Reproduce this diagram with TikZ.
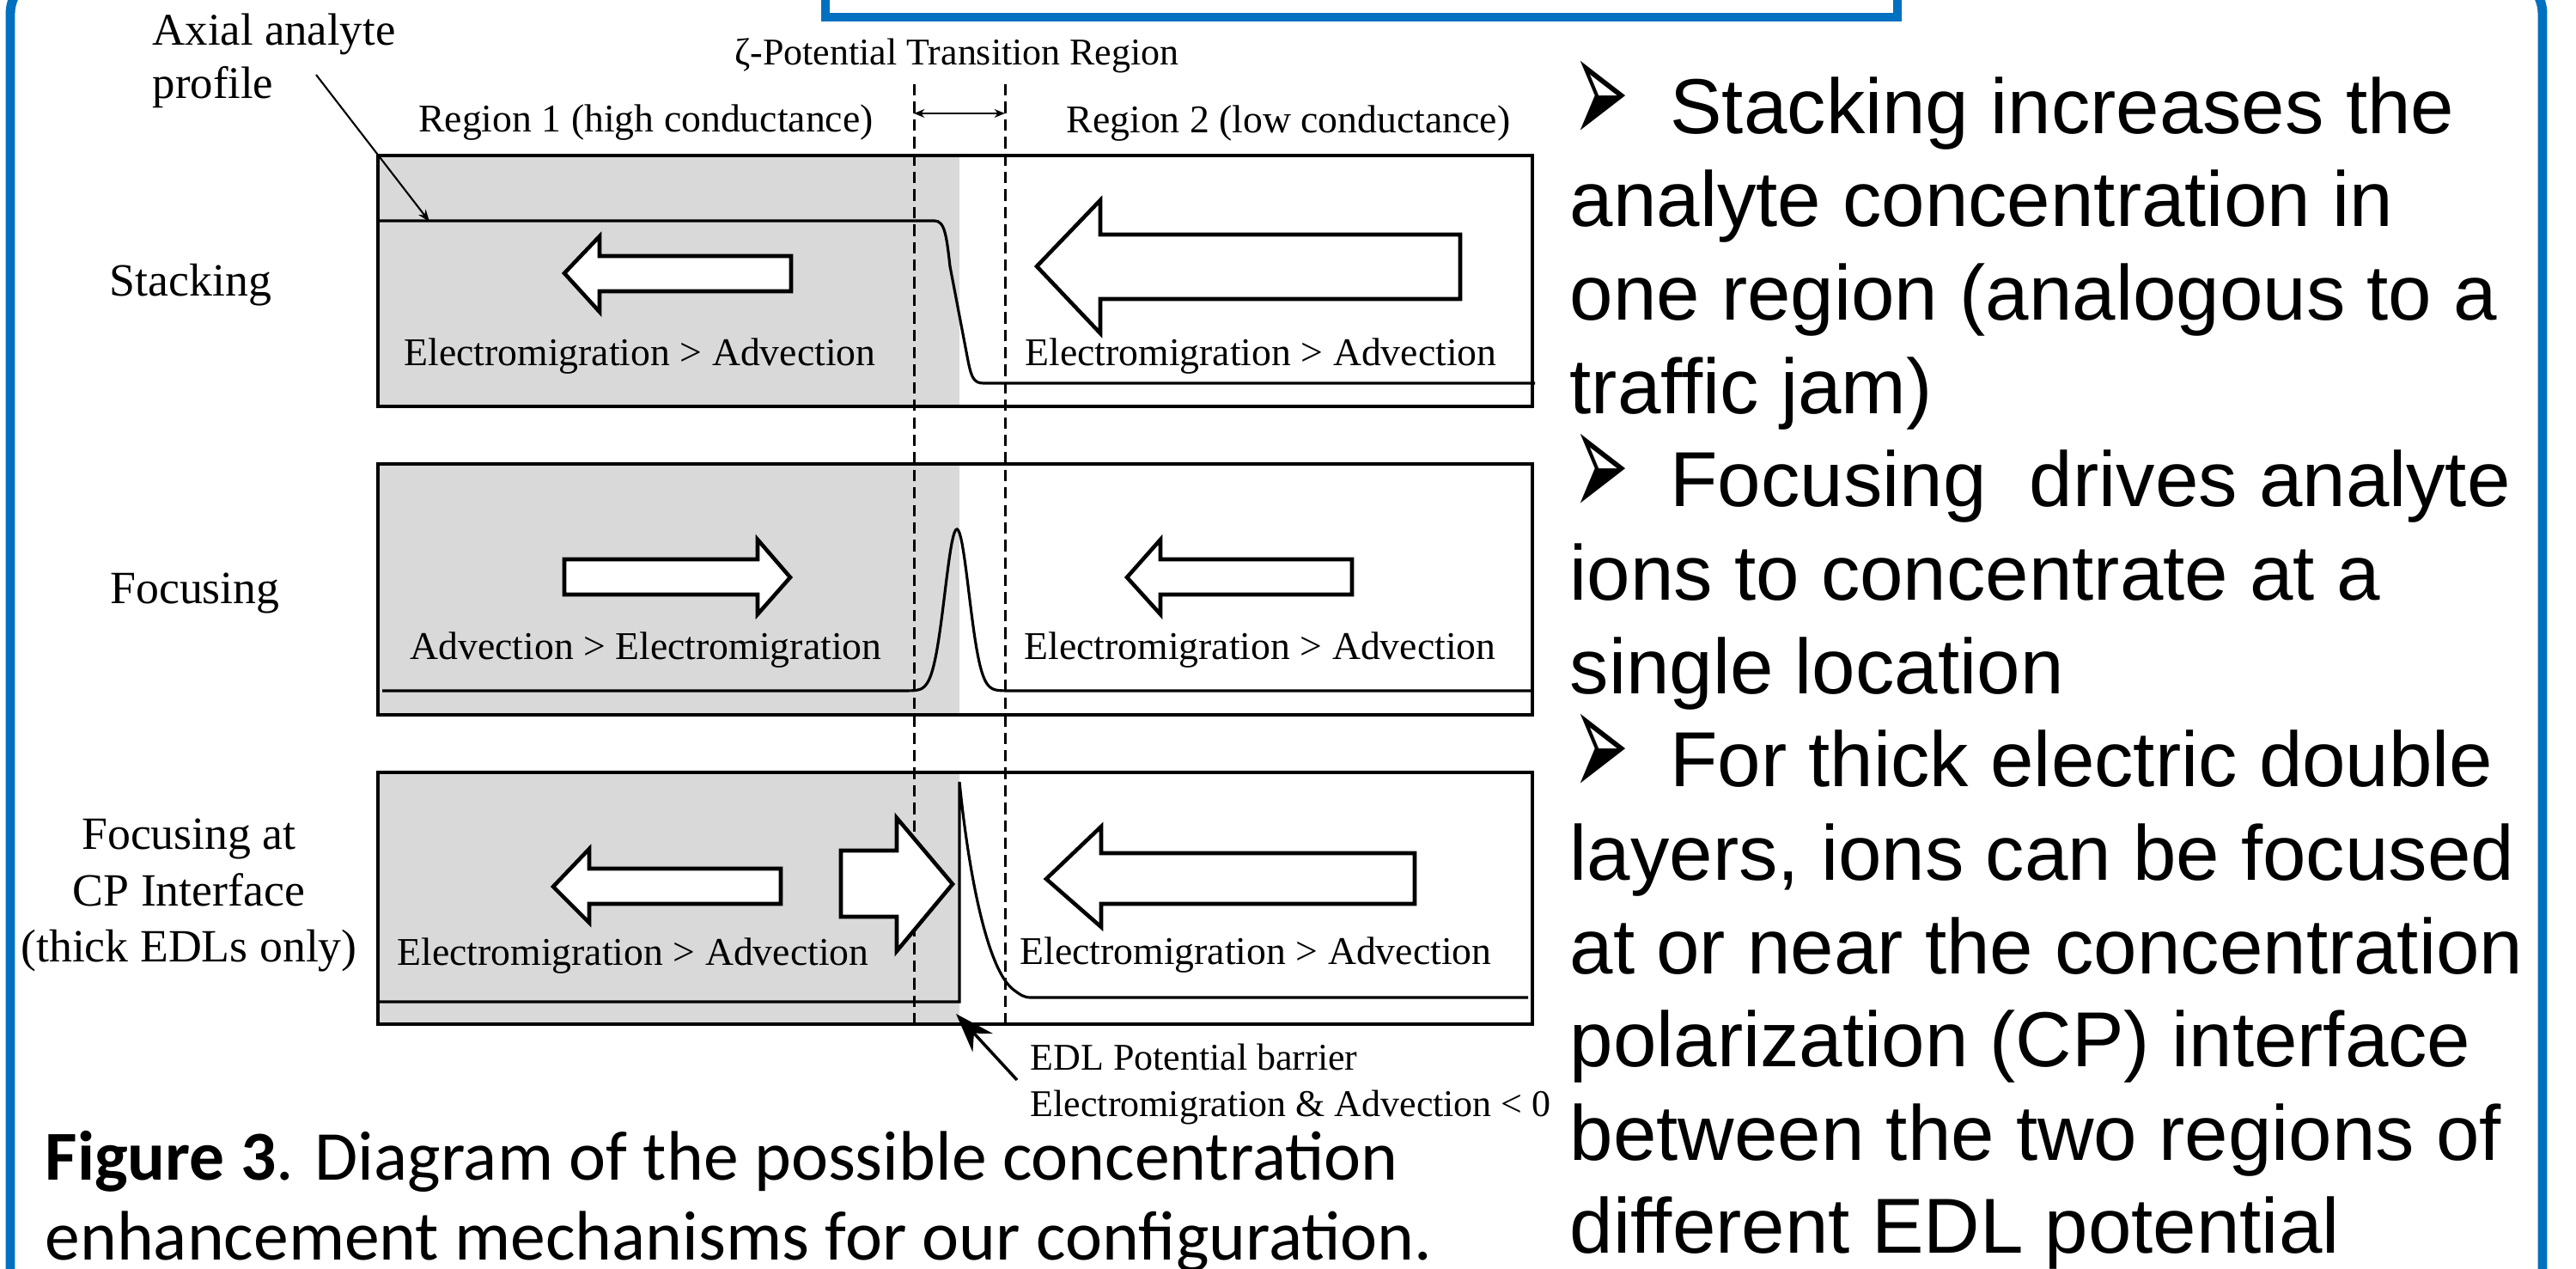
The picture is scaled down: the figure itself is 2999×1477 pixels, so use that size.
\documentclass[tikz,border=0pt]{standalone}
\usepackage{fontspec}
\setmainfont{Liberation Serif}
\newfontfamily\arialfont{Liberation Sans}
\newfontfamily\calibrifont{Carlito}
\newfontfamily\dingfont{DejaVu Sans}
\usetikzlibrary{arrows.meta}
\definecolor{frameblue}{HTML}{0070C0}
\definecolor{highgray}{HTML}{D9D9D9}
\newcommand{\bulletarrow}{\makebox[33.2pt][l]{\hspace{1pt}\raisebox{-4pt}{\scalebox{1.05}[2.5]{\dingfont\fontsize{21}{21}\selectfont ➢}}}}

\begin{document}
\begin{tikzpicture}[x=0.01cm,y=-0.01cm,
    channel/.style={line width=1.25pt},
    profile/.style={line width=0.9pt},
    flowarrow/.style={draw,fill=white,line width=1.3pt,line join=miter},
    boundary/.style={line width=0.85pt,dash pattern=on 3.8pt off 2pt},
    boxtext/.style={inner sep=0pt,anchor=base,font=\fontsize{13}{15}\selectfont},
    rowlabel/.style={inner sep=0pt,anchor=base,align=center,font=\fontsize{15.3}{18.7}\selectfont},
    note/.style={inner sep=0pt,font=\fontsize{12.5}{15.6}\selectfont}]
  \useasboundingbox (0,0) rectangle (2999,1477);

  % poster frame and title box
  \draw[frameblue,line width=3.1pt,rounded corners=0.45cm] (12,-29) rectangle (2960,1530);
  \draw[frameblue,line width=3.1pt] (961,-60) -- (961,20) -- (2209,20) -- (2209,-60);

  % high conductance region
  \fill[highgray] (440,181) rectangle (1117,473);
  \fill[highgray] (440,540) rectangle (1117,832);
  \fill[highgray] (440,899) rectangle (1117,1192);

  % transition region
  \draw[boundary] (1064,98) -- (1064,1195);
  \draw[boundary] (1170,98) -- (1170,1195);
  \coordinate (zl) at (1064,132);
  \coordinate (zr) at (1170,132);
  \draw[{Stealth[length=3.5pt,width=2.8pt]}-{Stealth[length=3.5pt,width=2.8pt]},line width=0.7pt] (zl) -- (zr);

  % channels
  \draw[channel] (440,181) rectangle (1784,473);
  \draw[channel] (440,540) rectangle (1784,832);
  \draw[channel] (440,899) rectangle (1784,1192);

  % analyte profiles
  \draw[profile] (442,257) -- (1088,257) .. controls (1100,257) and (1102,275) .. (1106,310)
    -- (1127,420) .. controls (1131,440) and (1134,446) .. (1145,446) -- (1787,446);
  \draw[profile] (445,804) -- (1040,804)
    -- plot[domain=1040:1190,samples=100] (\x,{804-188*exp(-((\x-1114)/14)^2/2)}) -- (1784,804);
  \draw[profile] (442,1166) -- (1117,1166) -- (1117,910) .. controls (1128,1020) and (1150,1130) .. (1180,1152)
    .. controls (1188,1158) and (1192,1161) .. (1200,1161) -- (1779,1161);

  % stacking
  \draw[flowarrow] (657,318) -- (698,275) -- (698,298) -- (921,298) -- (921,339) -- (698,339) -- (698,363) -- cycle;
  \draw[flowarrow] (1207,310) -- (1281,233) -- (1281,273) -- (1700,273) -- (1700,348) -- (1281,348) -- (1281,388) -- cycle;
  % focusing
  \draw[flowarrow] (920,672) -- (882,628) -- (882,651) -- (657,651) -- (657,692) -- (882,692) -- (882,715) -- cycle;
  \draw[flowarrow] (1312,672) -- (1351,628) -- (1351,651) -- (1574,651) -- (1574,692) -- (1351,692) -- (1351,715) -- cycle;
  % focusing at the CP interface
  \draw[flowarrow] (644,1032) -- (686,988) -- (686,1011) -- (909,1011) -- (909,1052) -- (686,1052) -- (686,1074) -- cycle;
  \draw[flowarrow] (1109,1029) -- (1044,952) -- (1044,990) -- (979,990) -- (979,1067) -- (1044,1067) -- (1044,1107) -- cycle;
  \draw[flowarrow] (1218,1023) -- (1282,962) -- (1282,993) -- (1647,993) -- (1647,1052) -- (1282,1052) -- (1282,1079) -- cycle;

  % labels
  \node[boxtext] (reg1) at (752,154) {Region 1 (high conductance)};
  \node[boxtext] (reg2) at (1500,155) {Region 2 (low conductance)};
  \node[note,anchor=base] (zeta) at (1114,76) {ζ-Potential Transition Region};
  \node[boxtext] (stack1) at (745,426) {Electromigration > Advection};
  \node[boxtext] (stack2) at (1468,426) {Electromigration > Advection};
  \node[boxtext] (focus1) at (752,768) {Advection > Electromigration};
  \node[boxtext] (focus2) at (1467,768) {Electromigration > Advection};
  \node[boxtext] (cp1) at (737,1124) {Electromigration > Advection};
  \node[boxtext] (cp2) at (1462,1123) {Electromigration > Advection};

  \node[rowlabel] (stacking) at (222,345) {Stacking};
  \node[rowlabel] (focusing) at (227,703) {Focusing};
  \node[rowlabel] (cpfocus) at (220,1120) {Focusing at\\CP Interface\\(thick EDLs only)};

  \node[inner sep=0pt,anchor=base west,align=left,font=\fontsize{15}{17.9}\selectfont] (axial) at (177,115) {Axial analyte\\profile};
  \coordinate (axstart) at (368,87);
  \coordinate (axtip) at (500,258);
  \draw[-{Stealth[length=4pt,width=3pt]},line width=0.6pt] (axstart) -- (axtip);

  \node[note,anchor=base west,align=left] (edl) at (1199,1300) {EDL Potential barrier\\Electromigration \& Advection < 0};
  \coordinate (edlstart) at (1184,1257);
  \coordinate (edltip) at (1113,1180);
  \draw[-{Stealth[length=13pt,width=9pt]},line width=1pt] (edlstart) -- (edltip);

  % caption
  \node[inner sep=0pt,anchor=base west,align=left,font=\calibrifont\fontsize{23.2}{26.6}\selectfont] (caption) at (52,1467)
    {\textbf{Figure 3}. Diagram of the possible concentration\\enhancement mechanisms for our configuration.};

  % summary
  \node[inner sep=0pt,anchor=base west,align=left,font=\arialfont\fontsize{25.8}{30.9}\selectfont] (summary) at (1827,1459)
    {\bulletarrow Stacking increases the\\
     analyte concentration in\\
     one region (analogous to a\\
     traffic jam)\\
     \bulletarrow Focusing~ drives analyte\\
     ions to concentrate at a\\
     single location\\
     \bulletarrow For thick electric double\\
     layers, ions can be focused\\
     at or near the concentration\\
     polarization (CP) interface\\
     between the two regions of\\
     different EDL potential};
\end{tikzpicture}
\end{document}
